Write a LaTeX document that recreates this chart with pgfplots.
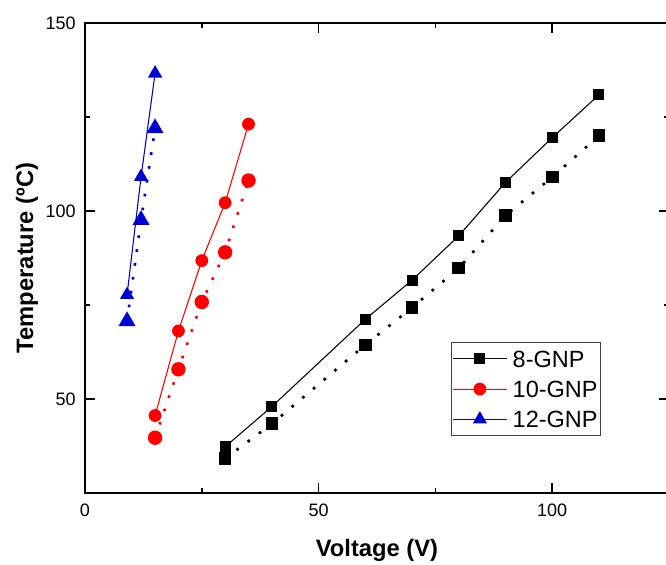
\documentclass[border=0pt]{standalone}
\usepackage{pgfplots}
\pgfplotsset{compat=1.18}
\usepackage{fontspec}
\setmainfont{Liberation Sans}
\definecolor{myred}{RGB}{255,0,0}
\definecolor{myblue}{RGB}{0,0,210}
\begin{document}
\begin{tikzpicture}
\begin{axis}[
  name=ax,
  scale only axis,
  width=438pt, height=352.5pt,
  xmin=0, xmax=125, ymin=25, ymax=150,
  xtick={0,50,100}, ytick={50,100,150},
  minor x tick num=1, minor y tick num=1,
  tick align=inside,
  major tick length=7.5pt, minor tick length=3.75pt,
  every tick/.style={black, line width=1.2pt},
  axis line style={line width=1.5pt},
  /pgf/number format/assume math mode=true,
  tick label style={font=\fontsize{13.5}{16}\selectfont},
  yticklabel style={xshift=-3.5pt},
  xticklabel style={yshift=-4.5pt},
  every axis x label/.style={at={(axis description cs:0.5,-0.136)}, anchor=base},
  every axis y label/.style={at={(axis description cs:-0.089,0.5)}, rotate=90, anchor=base},
  label style={font=\fontsize{17.8}{20}\selectfont\bfseries},
  xlabel={Voltage (V)},
  ylabel={Temperature (ºC)},
  legend style={at={(0.627,0.321)}, anchor=north west, draw=black!75, line width=0.75pt,
    font=\fontsize{17.6}{20}\selectfont, inner xsep=0.5pt, inner ysep=3.8pt,
    nodes={inner sep=2pt, text height=12.7pt, text depth=0pt},
    row sep=6pt, column sep=2pt},
  legend cell align=left,
  legend image code/.code={\draw[mark repeat=2, mark phase=2, #1] plot coordinates {(0pt,0pt) (20.25pt,0pt) (40.5pt,0pt)};},
]
% 8-GNP solid
\addplot[black, line width=0.8pt, mark=square*, mark size=3.75pt, mark options={solid}]
  coordinates {(30,37.3) (40,48.0) (60,71.2) (70,81.6) (80,93.4) (90,107.6) (100,119.5) (110,130.9)};
\addlegendentry{8-GNP}
% 10-GNP solid
\addplot[myred, line width=0.8pt, mark=*, mark size=4.4pt, mark options={solid}]
  coordinates {(15,45.6) (20,68.1) (25,86.8) (30,102.2) (35,123.1)};
\addlegendentry{10-GNP}
% 12-GNP solid
\addplot[myblue, line width=0.8pt, mark=triangle*, mark size=5.4pt, mark options={solid}]
  coordinates {(9,77.7) (12,109.1) (15,136.6)};
\addlegendentry{12-GNP}
% dotted
\addplot[forget plot, black, line width=2pt, dash pattern=on 2pt off 8.5pt, mark=square*, mark size=3.75pt, mark options={solid}]
  coordinates {(30,34.2) (40,43.4) (60,64.4) (70,74.3) (80,84.8) (90,98.8) (100,109.0) (110,120.0)};
\addplot[forget plot, myred, line width=2pt, dash pattern=on 2pt off 8.5pt, mark=*, mark size=4.4pt, mark options={solid}]
  coordinates {(15,39.7) (20,57.9) (25,75.8) (30,89.0) (35,108.1)};
\addplot[forget plot, myblue, line width=2pt, dash pattern=on 2pt off 8.5pt, mark=triangle*, mark size=5.4pt, mark options={solid}]
  coordinates {(9,70.7) (12,97.6) (15,122.0)};
\end{axis}
\pgfresetboundingbox
\path[use as bounding box] ([xshift=-63.75pt,yshift=-53.25pt]ax.south west) rectangle ([xshift=-2.25pt,yshift=17.25pt]ax.north east);
\end{tikzpicture}
\end{document}
